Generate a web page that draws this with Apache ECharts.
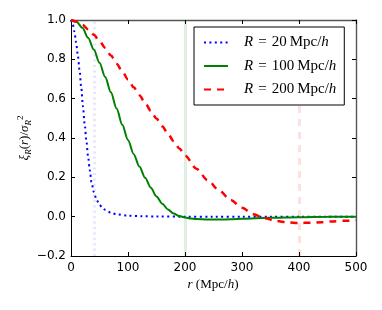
<!DOCTYPE html>
<html>
<head>
<meta charset="utf-8">
<script src="https://cdn.jsdelivr.net/npm/echarts@6/dist/echarts.min.js"></script>
<style>
html,body{margin:0;padding:0;background:#fff;}
#chart{width:382px;height:310px;}
</style>
</head>
<body>
<div id="chart"></div>
<script>
// ---- data ----
const seriesNames = ['R20', 'R100', 'R200'];
const smoothingRadii = [20, 100, 200];          // Mpc/h
const refLines = [40, 200, 400];                // 2R markers, Mpc/h

const r20 = [0, 3, 6, 9, 12, 15, 18, 21, 24, 27, 30, 33, 36, 40, 45, 50, 55, 60, 70, 80, 100, 125, 150, 200, 250, 300, 350, 400, 450, 500];
const xi20 = [1.0, 0.98, 0.94, 0.885, 0.82, 0.745, 0.655, 0.56, 0.47, 0.385, 0.305, 0.235, 0.175, 0.125, 0.085, 0.06, 0.045, 0.035, 0.02, 0.012, 0.005, 0.002, 0.001, 0.0, 0.0, 0.0, 0.0, 0.0, 0.0, 0.0];

const r100 = [0, 10, 20, 30, 40, 50, 60, 70, 80, 90, 100, 110, 120, 130, 140, 150, 160, 170, 180, 190, 200, 210, 220, 240, 260, 280, 300, 350, 400, 450, 500];
const xi100 = [1.0, 0.99, 0.96, 0.91, 0.85, 0.782, 0.71, 0.632, 0.55, 0.467, 0.39, 0.318, 0.255, 0.198, 0.147, 0.103, 0.066, 0.037, 0.016, 0.003, -0.004, -0.009, -0.012, -0.015, -0.015, -0.013, -0.011, -0.006, -0.003, -0.001, 0.0];

const r200 = [0, 10, 20, 30, 40, 50, 60, 70, 80, 90, 100, 110, 120, 130, 140, 150, 160, 170, 180, 190, 200, 220, 240, 260, 280, 300, 320, 340, 360, 380, 400, 420, 440, 460, 480, 500];
const xi200 = [1.0, 0.992, 0.976, 0.953, 0.925, 0.893, 0.858, 0.819, 0.778, 0.738, 0.698, 0.658, 0.618, 0.578, 0.538, 0.499, 0.46, 0.422, 0.384, 0.347, 0.311, 0.244, 0.185, 0.133, 0.085, 0.045, 0.012, -0.008, -0.022, -0.029, -0.032, -0.031, -0.028, -0.024, -0.021, -0.018];

const xTicks = [0, 100, 200, 300, 400, 500];
const yTicks = [-0.2, 0.0, 0.2, 0.4, 0.6, 0.8, 1.0];

// ---- chart ----
const chart = echarts.init(document.getElementById('chart'), null, {renderer: 'canvas'});

function pairs(xs, ys) { return xs.map((x, i) => [x, ys[i]]); }

const SERIF = "'Liberation Serif', 'DejaVu Serif', serif";
const SANS = "'DejaVu Sans', sans-serif";

const styles = [
  {color: '#0000ff', width: 2, type: [2, 3.4], faint: 'rgba(0,0,255,0.10)'},
  {color: '#008000', width: 2, type: 'solid', faint: 'rgba(0,128,0,0.12)'},
  {color: '#ff0000', width: 2.5, type: [7, 6], faint: 'rgba(255,0,0,0.12)'}
];
const datasets = [pairs(r20, xi20), pairs(r100, xi100), pairs(r200, xi200)];

const series = seriesNames.map((name, i) => ({
  name: name,
  type: 'line',
  data: datasets[i],
  smooth: 0.3,
  smoothMonotone: 'x',
  symbol: 'none',
  showSymbol: false,
  clip: true,
  z: 3,
  lineStyle: {color: styles[i].color, width: styles[i].width, type: styles[i].type},
  itemStyle: {color: styles[i].color},
  markLine: {
    silent: true,
    symbol: 'none',
    z: 1,
    label: {show: false},
    animation: false,
    lineStyle: {color: styles[i].faint, width: 3, type: styles[i].type},
    emphasis: {disabled: true},
    data: [{xAxis: refLines[i]}]
  }
}));

const fmtY = v => {
  if (Math.abs(v) < 1e-9) return '0.0';
  return (v < 0 ? '\u2212' : '') + Math.abs(v).toFixed(1);
};

const axisCommon = {
  type: 'value',
  splitLine: {show: false},
  axisTick: {inside: true, length: 4, lineStyle: {color: '#000', width: 1}}
};

const richMath = {
  i: {fontFamily: SERIF, fontStyle: 'italic', fontSize: 15, color: '#000'},
  n: {fontFamily: SERIF, fontSize: 15, color: '#000'}
};

const option = {
  animation: false,
  backgroundColor: '#fff',
  grid: {left: 71, right: 26, top: 20, bottom: 54, containLabel: false},
  xAxis: [
    Object.assign({}, axisCommon, {
      position: 'bottom', min: 0, max: 500, interval: 100,
      axisLine: {show: true, onZero: false, lineStyle: {color: '#000', width: 1}},
      axisLabel: {show: true, margin: 6, color: '#000', fontFamily: SANS, fontSize: 12,
        formatter: v => xTicks.includes(v) ? String(v) : ''}
    }),
    Object.assign({}, axisCommon, {
      position: 'top', min: 0, max: 500, interval: 100,
      axisLine: {show: true, onZero: false, lineStyle: {color: '#555', width: 1.4}},
      axisLabel: {show: false}
    })
  ],
  yAxis: [
    Object.assign({}, axisCommon, {
      position: 'left', min: -0.2, max: 1.0, interval: 0.2,
      axisLine: {show: true, onZero: false, lineStyle: {color: '#000', width: 1}},
      axisLabel: {show: true, margin: 5, color: '#000', fontFamily: SANS, fontSize: 12,
        formatter: v => yTicks.some(t => Math.abs(t - v) < 1e-9) ? fmtY(v) : ''}
    }),
    Object.assign({}, axisCommon, {
      position: 'right', min: -0.2, max: 1.0, interval: 0.2,
      axisLine: {show: true, onZero: false, lineStyle: {color: '#555', width: 1.4}},
      axisLabel: {show: false}
    })
  ],
  legend: {
    show: true,
    orient: 'vertical',
    left: 194,
    top: 27,
    padding: [8, 8, 8, 9],
    itemWidth: 24,
    itemHeight: 14,
    itemGap: 8.5,
    borderColor: '#000',
    borderWidth: 1,
    backgroundColor: '#fff',
    selectedMode: false,
    data: seriesNames,
    itemStyle: {color: 'rgba(0,0,0,0)', borderWidth: 0, opacity: 0},
    formatter: name => {
      const idx = seriesNames.indexOf(name);
      return '{i|R}{n|\u2004=\u2004' + smoothingRadii[idx] + '\u2009Mpc/}{i|h}';
    },
    textStyle: {
      fontFamily: SERIF, fontSize: 15, color: '#000',
      padding: [0, 0, 0, 11],
      rich: richMath
    }
  },
  graphic: [
    {
      type: 'text',
      x: 213, y: 285,
      silent: true,
      style: {
        text: '{i|r}{n| (Mpc/}{i|h}{n|)}',
        align: 'center', verticalAlign: 'middle',
        rich: {
          i: {fontFamily: SERIF, fontStyle: 'italic', fontSize: 13, fill: '#000'},
          n: {fontFamily: SERIF, fontSize: 13, fill: '#000'}
        }
      }
    },
    {
      type: 'text',
      x: 25, y: 138,
      rotation: Math.PI / 2,
      silent: true,
      style: {
        text: '{i|ξ}{sub|R}{n|(}{i|r}{n|)/}{i|σ}{sub|R}{sup|2}',
        align: 'center', verticalAlign: 'middle',
        rich: {
          i: {fontFamily: SERIF, fontStyle: 'italic', fontSize: 13, fill: '#000'},
          n: {fontFamily: SERIF, fontSize: 13, fill: '#000'},
          sub: {fontFamily: SERIF, fontStyle: 'italic', fontSize: 9, fill: '#000', padding: [7, 0, 0, 0]},
          sup: {fontFamily: SERIF, fontSize: 9, fill: '#000', padding: [0, 0, 8, 0]}
        }
      }
    }
  ],
  series: series
};

chart.setOption(option);
</script>
</body>
</html>
